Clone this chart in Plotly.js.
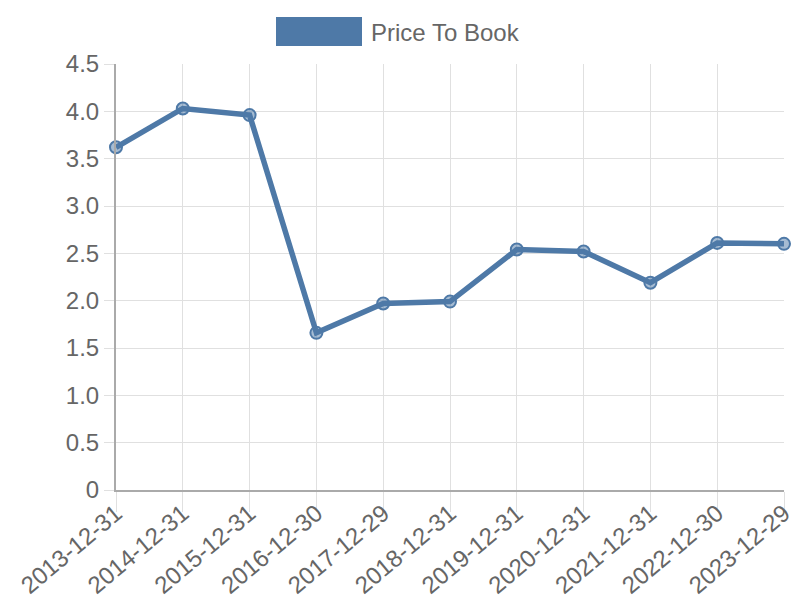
<!DOCTYPE html>
<html>
<head>
<meta charset="utf-8">
<script src="https://cdn.plot.ly/plotly-3.0.1.min.js"></script>
<style>html,body{margin:0;padding:0;background:#fff}#chart{width:800px;height:600px}</style>
</head>
<body>
<div id="chart"></div>
<script>
var dates = ["2013-12-31","2014-12-31","2015-12-31","2016-12-30","2017-12-29","2018-12-31","2019-12-31","2020-12-31","2021-12-31","2022-12-30","2023-12-29"];
var priceToBook = [3.62, 4.03, 3.96, 1.66, 1.97, 1.99, 2.54, 2.52, 2.19, 2.61, 2.60];
var yTicks = [0, 0.5, 1, 1.5, 2, 2.5, 3, 3.5, 4, 4.5];
var yTickText = ["0", "0.5", "1.0", "1.5", "2.0", "2.5", "3.0", "3.5", "4.0", "4.5"];
var seriesName = "Price To Book";

var blue = "#4e79a7";
var trace = {
  x: dates, y: priceToBook, type: "scatter", mode: "lines+markers", name: seriesName,
  line: {color: blue, width: 5.5},
  marker: {size: 12, color: "rgba(78,121,167,0.5)", line: {color: blue, width: 2}},
  showlegend: false, cliponaxis: false
};
var font = {family: "Liberation Sans, Arial, sans-serif", color: "#666"};
var layout = {
  width: 800, height: 600,
  margin: {l: 116, r: 16, t: 64, b: 110},
  paper_bgcolor: "#fff", plot_bgcolor: "#fff",
  font: font,
  showlegend: false,
  xaxis: {
    type: "category", range: [0, dates.length - 1], automargin: false,
    showgrid: true, gridcolor: "#e0e0e0", gridwidth: 1,
    showline: true, linecolor: "#aaa", linewidth: 2,
    ticks: "outside", ticklen: 20, tickcolor: "#e0e0e0", tickwidth: 1,
    ticklabelstandoff: -22,
    tickangle: -40, tickfont: {size: 24, color: "#666", family: font.family},
    zeroline: false, fixedrange: true
  },
  yaxis: {
    range: [0, 4.5], tickvals: yTicks, ticktext: yTickText, automargin: false,
    showgrid: true, gridcolor: "#e0e0e0", gridwidth: 1,
    showline: true, linecolor: "#aaa", linewidth: 2,
    ticks: "outside", ticklen: 10, tickcolor: "#e0e0e0", tickwidth: 1,
    tickfont: {size: 24, color: "#666", family: font.family},
    zeroline: false, fixedrange: true
  },
  shapes: [{
    type: "rect", xref: "paper", yref: "paper",
    x0: (276 - 116) / 668, x1: (362 - 116) / 668,
    y0: 1 + (64 - 46) / 426, y1: 1 + (64 - 17) / 426,
    fillcolor: blue, line: {width: 0}
  }],
  annotations: [{
    text: seriesName, xref: "paper", yref: "paper",
    x: (369 - 116) / 668, y: 1 + (64 - 32) / 426,
    xanchor: "left", yanchor: "middle", showarrow: false,
    font: {size: 24, color: "#666", family: font.family}
  }]
};
Plotly.newPlot("chart", [trace], layout, {displayModeBar: false, staticPlot: true});
</script>
</body>
</html>
